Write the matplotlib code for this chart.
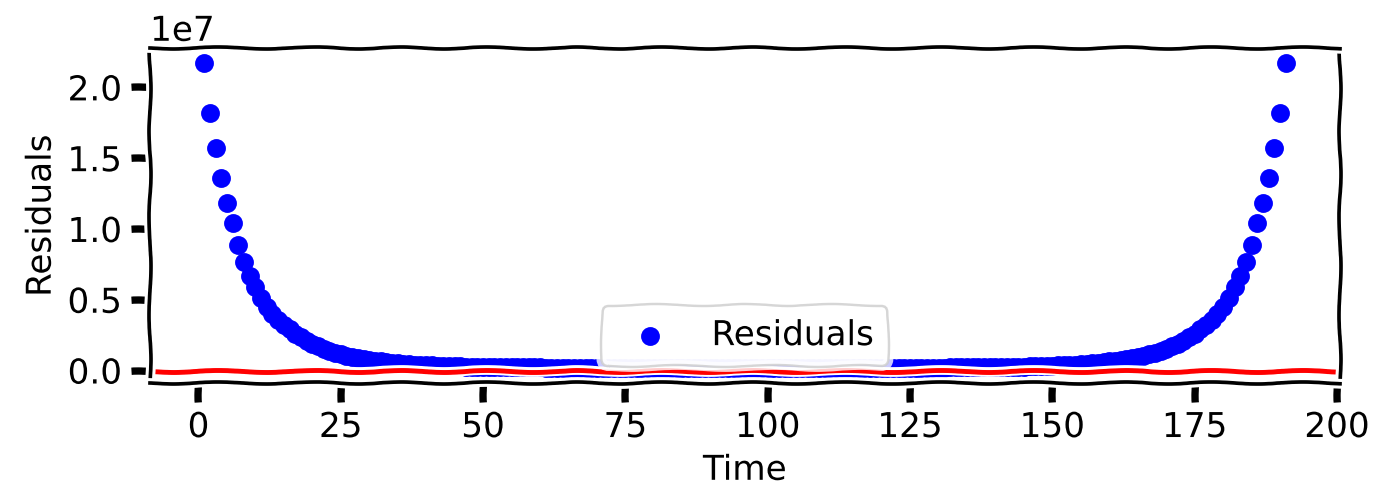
import matplotlib
matplotlib.use('Agg')
import matplotlib.pyplot as plt
from matplotlib.ticker import MultipleLocator
import numpy as np

# 残差数据 (单位 1e7)
time = np.arange(1, 192)

resid_left = [2.17, 1.82, 1.57, 1.36, 1.18, 1.04, 0.89, 0.77, 0.67, 0.59,
              0.51, 0.45, 0.40, 0.36, 0.32, 0.29, 0.26, 0.235, 0.21, 0.19,
              0.17, 0.155, 0.14, 0.125, 0.115, 0.105, 0.095, 0.088, 0.082, 0.076,
              0.070, 0.065, 0.060, 0.056, 0.052, 0.048, 0.045, 0.042, 0.040, 0.038]
resid_mid = [0.036, 0.034, 0.032, 0.031, 0.030, 0.029, 0.028, 0.027, 0.026, 0.026,
             0.025, 0.025, 0.024, 0.024, 0.023, 0.023, 0.023, 0.022, 0.022, 0.022,
             0.021, 0.021, 0.021, 0.021, 0.021, 0.021, 0.021, 0.021, 0.021, 0.021,
             0.020, 0.020, 0.020, 0.020, 0.020, 0.020, 0.020, 0.020, 0.020, 0.020,
             0.020, 0.020, 0.020, 0.020, 0.020, 0.020, 0.020, 0.020, 0.020, 0.020,
             0.020, 0.020, 0.020, 0.020, 0.020, 0.020, 0.020, 0.020, 0.020, 0.020,
             0.020, 0.020, 0.020, 0.020, 0.020, 0.020, 0.020, 0.020, 0.020, 0.020,
             0.020, 0.020, 0.020, 0.020, 0.020, 0.020, 0.020, 0.020, 0.020, 0.020,
             0.021, 0.021, 0.021, 0.021, 0.021, 0.021, 0.021, 0.021, 0.021, 0.021,
             0.021, 0.022, 0.022, 0.022, 0.023, 0.023, 0.023, 0.024, 0.024, 0.025,
             0.025, 0.026, 0.026, 0.027, 0.028, 0.029, 0.030, 0.031, 0.032, 0.034,
             0.036]
resid_right = [0.038, 0.040, 0.042, 0.045, 0.048, 0.052, 0.056, 0.060, 0.065, 0.070,
               0.076, 0.082, 0.088, 0.095, 0.105, 0.115, 0.125, 0.14, 0.155, 0.17,
               0.19, 0.21, 0.235, 0.26, 0.29, 0.32, 0.36, 0.40, 0.45, 0.51,
               0.59, 0.67, 0.77, 0.89, 1.04, 1.18, 1.36, 1.57, 1.82, 2.17]

residuals = np.array(resid_left + resid_mid + resid_right) * 1e7

with plt.xkcd():
    plt.rcParams['font.family'] = ['DejaVu Sans']
    fig, ax = plt.subplots(figsize=(1377 / 176, 496 / 176), dpi=176)
    fig.subplots_adjust(left=0.109, right=0.973, top=0.903, bottom=0.228)

    ax.scatter(time, residuals, s=45, color='blue', label='Residuals')
    ax.axhline(0, color='red')
    ax.yaxis.set_major_locator(MultipleLocator(0.5e7))
    ax.set_xlabel('Time')
    ax.set_ylabel('Residuals')
    ax.legend(loc='lower center')

    fig.savefig('out.png', dpi=176)
